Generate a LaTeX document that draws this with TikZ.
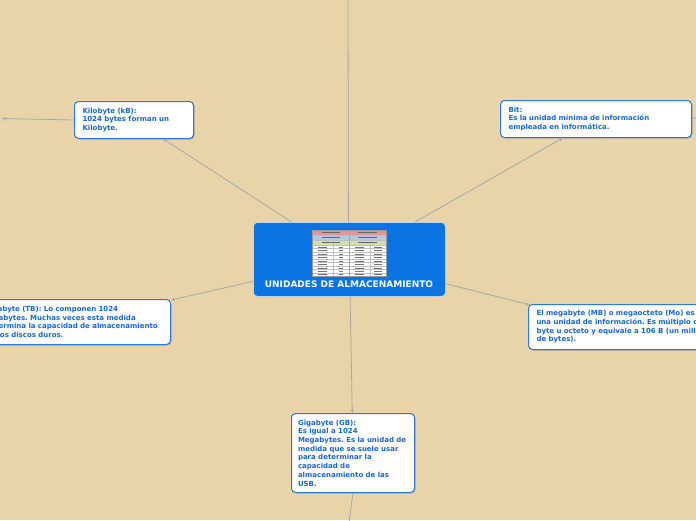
\documentclass[tikz,border=0pt]{standalone}
\usepackage{fontspec}
\setmainfont{DejaVu Sans}
\usetikzlibrary{shadows,arrows.meta}
\definecolor{bgc}{RGB}{232,212,168}
\definecolor{mainblue}{RGB}{10,116,226}
\definecolor{boxline}{RGB}{40,122,222}
\definecolor{txtblue}{RGB}{22,104,214}
\definecolor{linec}{RGB}{168,168,168}
\definecolor{tabred}{RGB}{226,150,150}
\definecolor{tabblue}{RGB}{180,200,226}
\definecolor{tabgreen}{RGB}{208,224,166}
\frenchspacing
\begin{document}
\begin{tikzpicture}[x=1pt,y=-1pt,
  topicbox/.style={draw=boxline, line width=1pt, fill=white, rounded corners=4pt,
    anchor=north west, align=left, inner xsep=8pt, inner ysep=0pt,
    text=txtblue, font=\bfseries\fontsize{7}{8.7}\selectfont,
    drop shadow={shadow xshift=1pt, shadow yshift=-1pt, opacity=0.35, fill=black!60}},
  conn/.style={draw=linec, line width=0.8pt},
  arr/.style={conn, -{Stealth[length=4pt,width=3.5pt]}}]
\useasboundingbox (0,0) rectangle (696,520);
\clip (0,0) rectangle (696,520);
\fill[bgc] (0,0) rectangle (696,520);

% central topic
\node[draw=white!70!mainblue, line width=0.8pt, fill=mainblue, rounded corners=4pt,
  minimum width=192pt, minimum height=74pt, anchor=north west, inner sep=0pt] (c) at (253,222) {};
\node[text=white, font=\bfseries\fontsize{9}{10}\selectfont, inner sep=0pt] (ctitle) at (349,284) {UNIDADES DE ALMACENAMIENTO};

% small table picture
\fill[white] (312,230) rectangle (386,276);
\fill[tabred] (312,230) rectangle (386,235);
\fill[tabblue] (312,235) rectangle (386,240);
\fill[tabgreen] (312,240) rectangle (386,245);
\foreach \yy in {235,240,245,248.5,252,255.5,259,262.5,266,269.5,273}
  \draw[black!25, line width=0.2pt] (312,\yy) -- (386,\yy);
\draw[black!35, line width=0.2pt] (349,235) -- (349,276);
\draw[black!25, line width=0.2pt] (333,240) -- (333,276) (370,240) -- (370,276);
\draw[black!40, line width=0.3pt] (312,230) rectangle (386,276);
\foreach \yy in {232.5,237.5,242.5}
  {\draw[black!60, line width=0.5pt] (322,\yy) -- (340,\yy); \draw[black!60, line width=0.5pt] (358,\yy) -- (377,\yy);}
\foreach \yy in {246.8,250.3,253.8,257.3,260.8,264.3,267.8,271.3,274.6}
  {\draw[black!55, line width=0.4pt] (318,\yy) -- (327,\yy);
   \draw[black!55, line width=0.4pt] (339,\yy) -- (343,\yy);
   \draw[black!55, line width=0.4pt] (355,\yy) -- (364,\yy);
   \draw[black!55, line width=0.4pt] (374,\yy) -- (382,\yy);}

% subtopics
\node[topicbox, minimum width=119pt, minimum height=37pt, text width=103pt] (kb) at (74,101)
  {Kilobyte (kB):\\1024 bytes forman un\\Kilobyte.};
\node[topicbox, minimum width=191pt, minimum height=37pt, text width=175pt] (bit) at (500,100)
  {Bit:\\Es la unidad mínima de información\\empleada en informática.};
\node[topicbox, minimum width=193pt, minimum height=45pt, text width=177pt] (tb) at (-23,299)
  {Terabyte (TB): Lo componen 1024\\Gigabytes. Muchas veces esta medida\\determina la capacidad de almacenamiento\\de los discos duros.};
\node[topicbox, minimum width=220pt, minimum height=45pt, text width=204pt] (mb) at (528,304)
  {El megabyte (MB) o megaocteto (Mo) es\\una unidad de información. Es múltiplo del\\byte u octeto y equivale a 106 B (un millón\\de bytes).};
\node[topicbox, inner xsep=6.5pt, minimum width=123pt, minimum height=79pt, text width=110pt] (gb) at (291,413)
  {Gigabyte (GB):\\Es igual a 1024\\Megabytes. Es la unidad de\\medida que se suele usar\\para determinar la\\capacidad de\\almacenamiento de las\\USB.};

% free ends
\coordinate (top) at (348,-5);
\coordinate (bottom) at (348,530);
\coordinate (kbleft) at (2,118.5);
\coordinate (bitright) at (705,115);

% connectors
\draw[conn] (c.north) ++(-1,0) -- (top);
\draw[arr] (c) -- (kb);
\draw[arr] (c) -- (bit);
\draw[arr] (c) -- (tb);
\draw[arr] (c) -- ([xshift=2pt,yshift=-1pt]mb.north west);
\draw[arr] (c) -- (gb);
\draw[conn] (gb.south) -- (bottom);
\draw[arr] (kb.west) -- (kbleft);
\draw[conn] (bit.east) -- (bitright);
\end{tikzpicture}
\end{document}
